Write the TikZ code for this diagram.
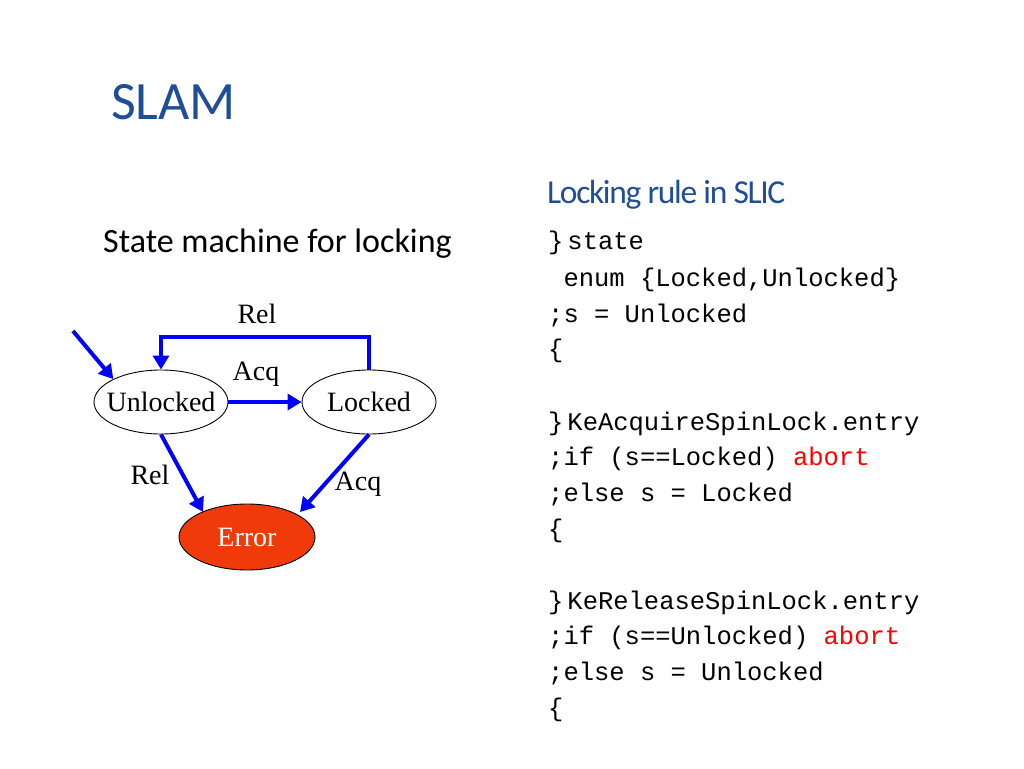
\documentclass[tikz,border=0pt]{standalone}
\usepackage{fontspec}
\setmainfont{Liberation Serif}
\newfontfamily\myCal{Carlito}
\newfontfamily\myMono{Liberation Mono}
\usetikzlibrary{shapes.geometric,arrows.meta}
\definecolor{ttl}{HTML}{1F4E96}
\definecolor{err}{HTML}{F03A0A}
\begin{document}
\begin{tikzpicture}[x=1pt,y=-1pt,
  st/.style={ellipse,draw,line width=0.9pt,minimum width=134pt,minimum height=64pt,inner xsep=-14pt,inner ysep=0pt,font=\fontsize{28}{28}\selectfont},
  ar/.style={draw=blue,line width=4pt,-{Triangle[length=14pt,width=16pt]}},
  lb/.style={font=\fontsize{28}{28}\selectfont},
  code/.style={anchor=west,font=\myMono\fontsize{25.5}{25.5}\selectfont,inner sep=0pt}]
\useasboundingbox (0,0) rectangle (1024,768);
\node[anchor=west,text=ttl,font=\myCal\fontsize{54}{54}\selectfont,inner sep=0pt] (title) at (111,102) {SLAM};
\node[anchor=west,text=ttl,font=\myCal\fontsize{33.5}{33.5}\selectfont,inner sep=0pt] (sub) at (547,195) {\addfontfeature{LetterSpace=-4}Locking rule in SLIC};
\node[anchor=west,font=\myCal\fontsize{34}{34}\selectfont,inner sep=0pt] (sm) at (103,244) {State machine for locking};
\node[st] (U) at (161,402) {Unlocked};
\node[st] (L) at (369,402) {Locked};
\node[st,fill=err,text=white,minimum width=136pt,minimum height=66pt] (E) at (247,537) {Error};
\coordinate (s) at (73,331);
\draw[ar] (s) -- (U.north west);
\draw[ar] (L.north) -- ++(0,-33) -| (U.north);
\draw[ar] (U.east) -- (L.west);
\draw[ar] (U.south) -- (203,512);
\draw[ar] (L.south) -- (300,512);
\node[lb] (l1) at (257,314) {Rel};
\node[lb] (l2) at (256,374) {Acq};
\node[lb] (l3) at (150,475) {Rel};
\node[lb] (l4) at (358,484) {Acq};
\node[code] (c1) at (548,243) {\}\hspace{4pt}state};
\node[code] (c2) at (548,280) {\ enum \{Locked,Unlocked\}};
\node[code] (c3) at (548,316) {;s = Unlocked};
\node[code] (c4) at (548,351) {\{};
\node[code] (c5) at (548,424) {\}\hspace{4pt}KeAcquireSpinLock.entry};
\node[code] (c6) at (548,459) {;if (s==Locked) \textcolor{red}{abort}};
\node[code] (c7) at (548,495) {;else s = Locked};
\node[code] (c8) at (548,531) {\{};
\node[code] (c9) at (548,603) {\}\hspace{4pt}KeReleaseSpinLock.entry};
\node[code] (c10) at (548,638) {;if (s==Unlocked) \textcolor{red}{abort}};
\node[code] (c11) at (548,674) {;else s = Unlocked};
\node[code] (c12) at (548,710) {\{};
\end{tikzpicture}
\end{document}
